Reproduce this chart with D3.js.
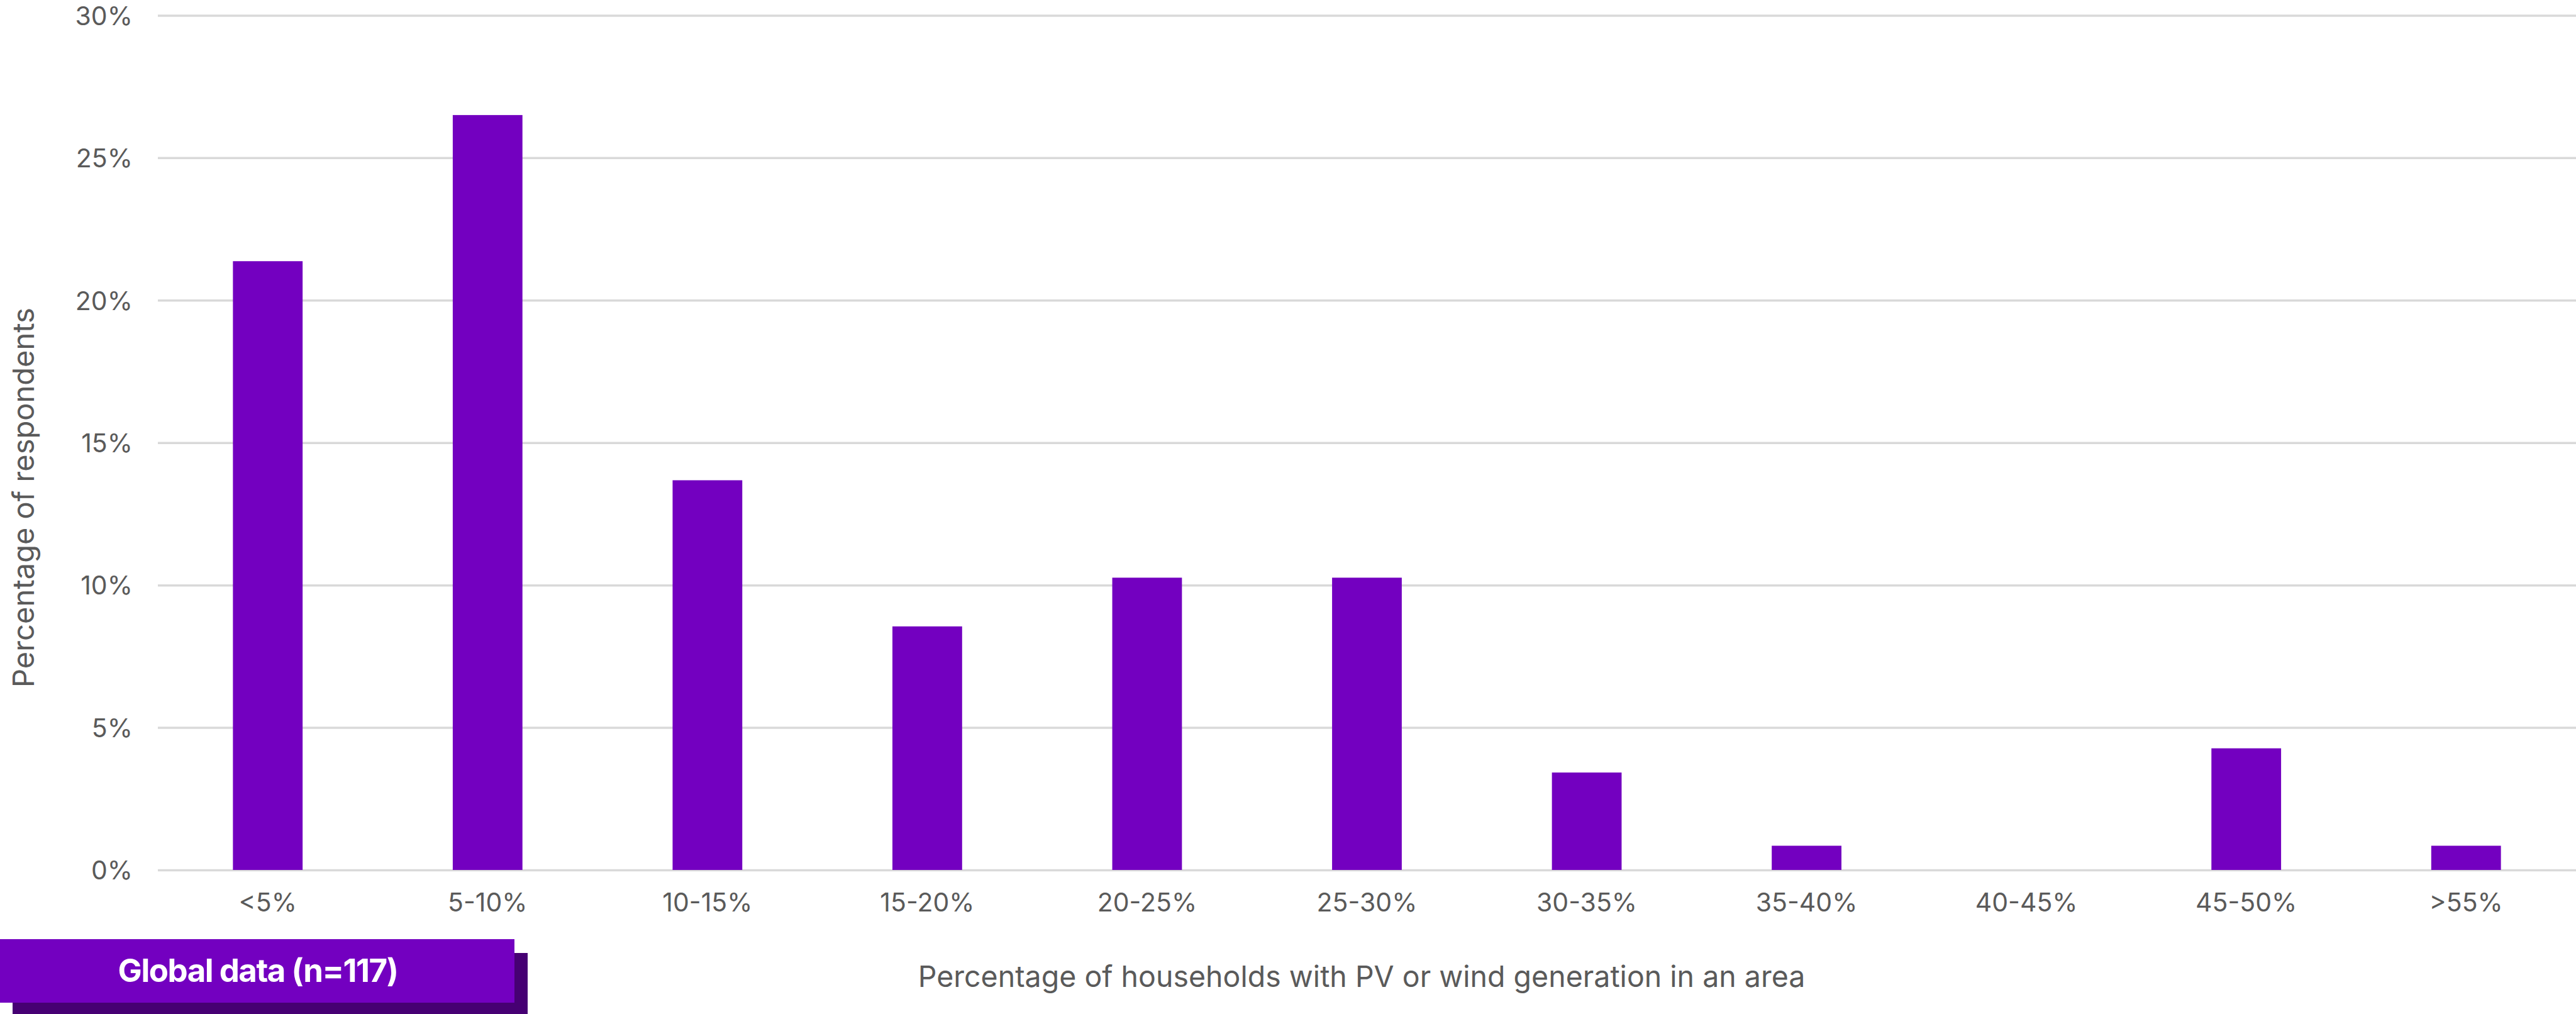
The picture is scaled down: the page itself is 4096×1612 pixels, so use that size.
<!DOCTYPE html>
<html>
<head>
<meta charset="utf-8">
<script src="https://cdn.jsdelivr.net/npm/d3@7"></script>
<style>
  html, body { margin: 0; padding: 0; background: #ffffff; }
  svg { display: block; }
  text { font-family: Inter, "Noto Sans", sans-serif; }
</style>
</head>
<body>
<svg id="chart" width="4096" height="1612"></svg>
<script>
// Share of respondents by household PV / wind penetration band (n = 117)
const categories = ["<5%", "5-10%", "10-15%", "15-20%", "20-25%", "25-30%",
                    "30-35%", "35-40%", "40-45%", "45-50%", ">55%"];
const shareOfRespondents = [21.37, 26.50, 13.68, 8.55, 10.26, 10.26,
                            3.42, 0.85, 0, 4.27, 0.85];
const yTicks = [0, 5, 10, 15, 20, 25, 30];
const xTitle = "Percentage of households with PV or wind generation in an area";
const yTitle = "Percentage of respondents";
const badgeText = "Global data (n=117)";

const W = 4096, H = 1612;
const plot = { left: 251, right: 4096, top: 24.4, bottom: 1383 };

const svg = d3.select("#chart");

const x = d3.scaleBand()
  .domain(categories)
  .range([plot.left, plot.right])
  .paddingInner(0.683)
  .paddingOuter(0.3415);

const y = d3.scaleLinear()
  .domain([0, 30])
  .range([plot.bottom, plot.top]);

// horizontal gridlines with percentage labels
const yAxis = svg.append("g")
  .attr("transform", `translate(${plot.left},0)`)
  .call(d3.axisLeft(y)
    .tickValues(yTicks)
    .tickSize(-(plot.right - plot.left))
    .tickPadding(40)
    .tickFormat(d => d + "%"));
yAxis.select(".domain").remove();
yAxis.selectAll(".tick line")
  .attr("stroke", "#d9d9d9")
  .attr("stroke-width", 3.5);
yAxis.selectAll(".tick text")
  .attr("fill", "#5a5a5a")
  .attr("font-size", 41)
  .attr("dy", "0.36em");

// bars
svg.append("g")
  .selectAll("rect")
  .data(categories.map((c, i) => ({ c, v: shareOfRespondents[i] })))
  .join("rect")
  .attr("x", d => x(d.c))
  .attr("width", x.bandwidth())
  .attr("y", d => y(d.v))
  .attr("height", d => y(0) - y(d.v))
  .attr("fill", "#7300c0");

// category labels
const xAxis = svg.append("g")
  .attr("transform", `translate(0,${plot.bottom})`)
  .call(d3.axisBottom(x).tickSize(0).tickPadding(37));
xAxis.select(".domain").remove();
xAxis.selectAll(".tick text")
  .attr("fill", "#5a5a5a")
  .attr("font-size", 41)
  .attr("dy", "0.71em");

// axis titles
svg.append("text")
  .attr("x", 2165)
  .attr("y", 1569)
  .attr("text-anchor", "middle")
  .attr("fill", "#5a5a5a")
  .attr("font-size", 46.5)
  .text(xTitle);

svg.append("text")
  .attr("transform", "translate(54,791) rotate(-90)")
  .attr("text-anchor", "middle")
  .attr("fill", "#5a5a5a")
  .attr("font-size", 47)
  .text(yTitle);

// sample badge with offset shadow
const badge = svg.append("g");
badge.append("rect")
  .attr("x", 20).attr("y", 1515)
  .attr("width", 819).attr("height", 97)
  .attr("fill", "#460073");
badge.append("rect")
  .attr("x", 0).attr("y", 1493)
  .attr("width", 818).attr("height", 101)
  .attr("fill", "#7300c0");
badge.append("text")
  .attr("x", 410)
  .attr("y", 1561)
  .attr("text-anchor", "middle")
  .attr("fill", "#ffffff")
  .attr("font-size", 51)
  .attr("font-weight", 700)
  .attr("letter-spacing", -1.5)
  .text(badgeText);
</script>
</body>
</html>
